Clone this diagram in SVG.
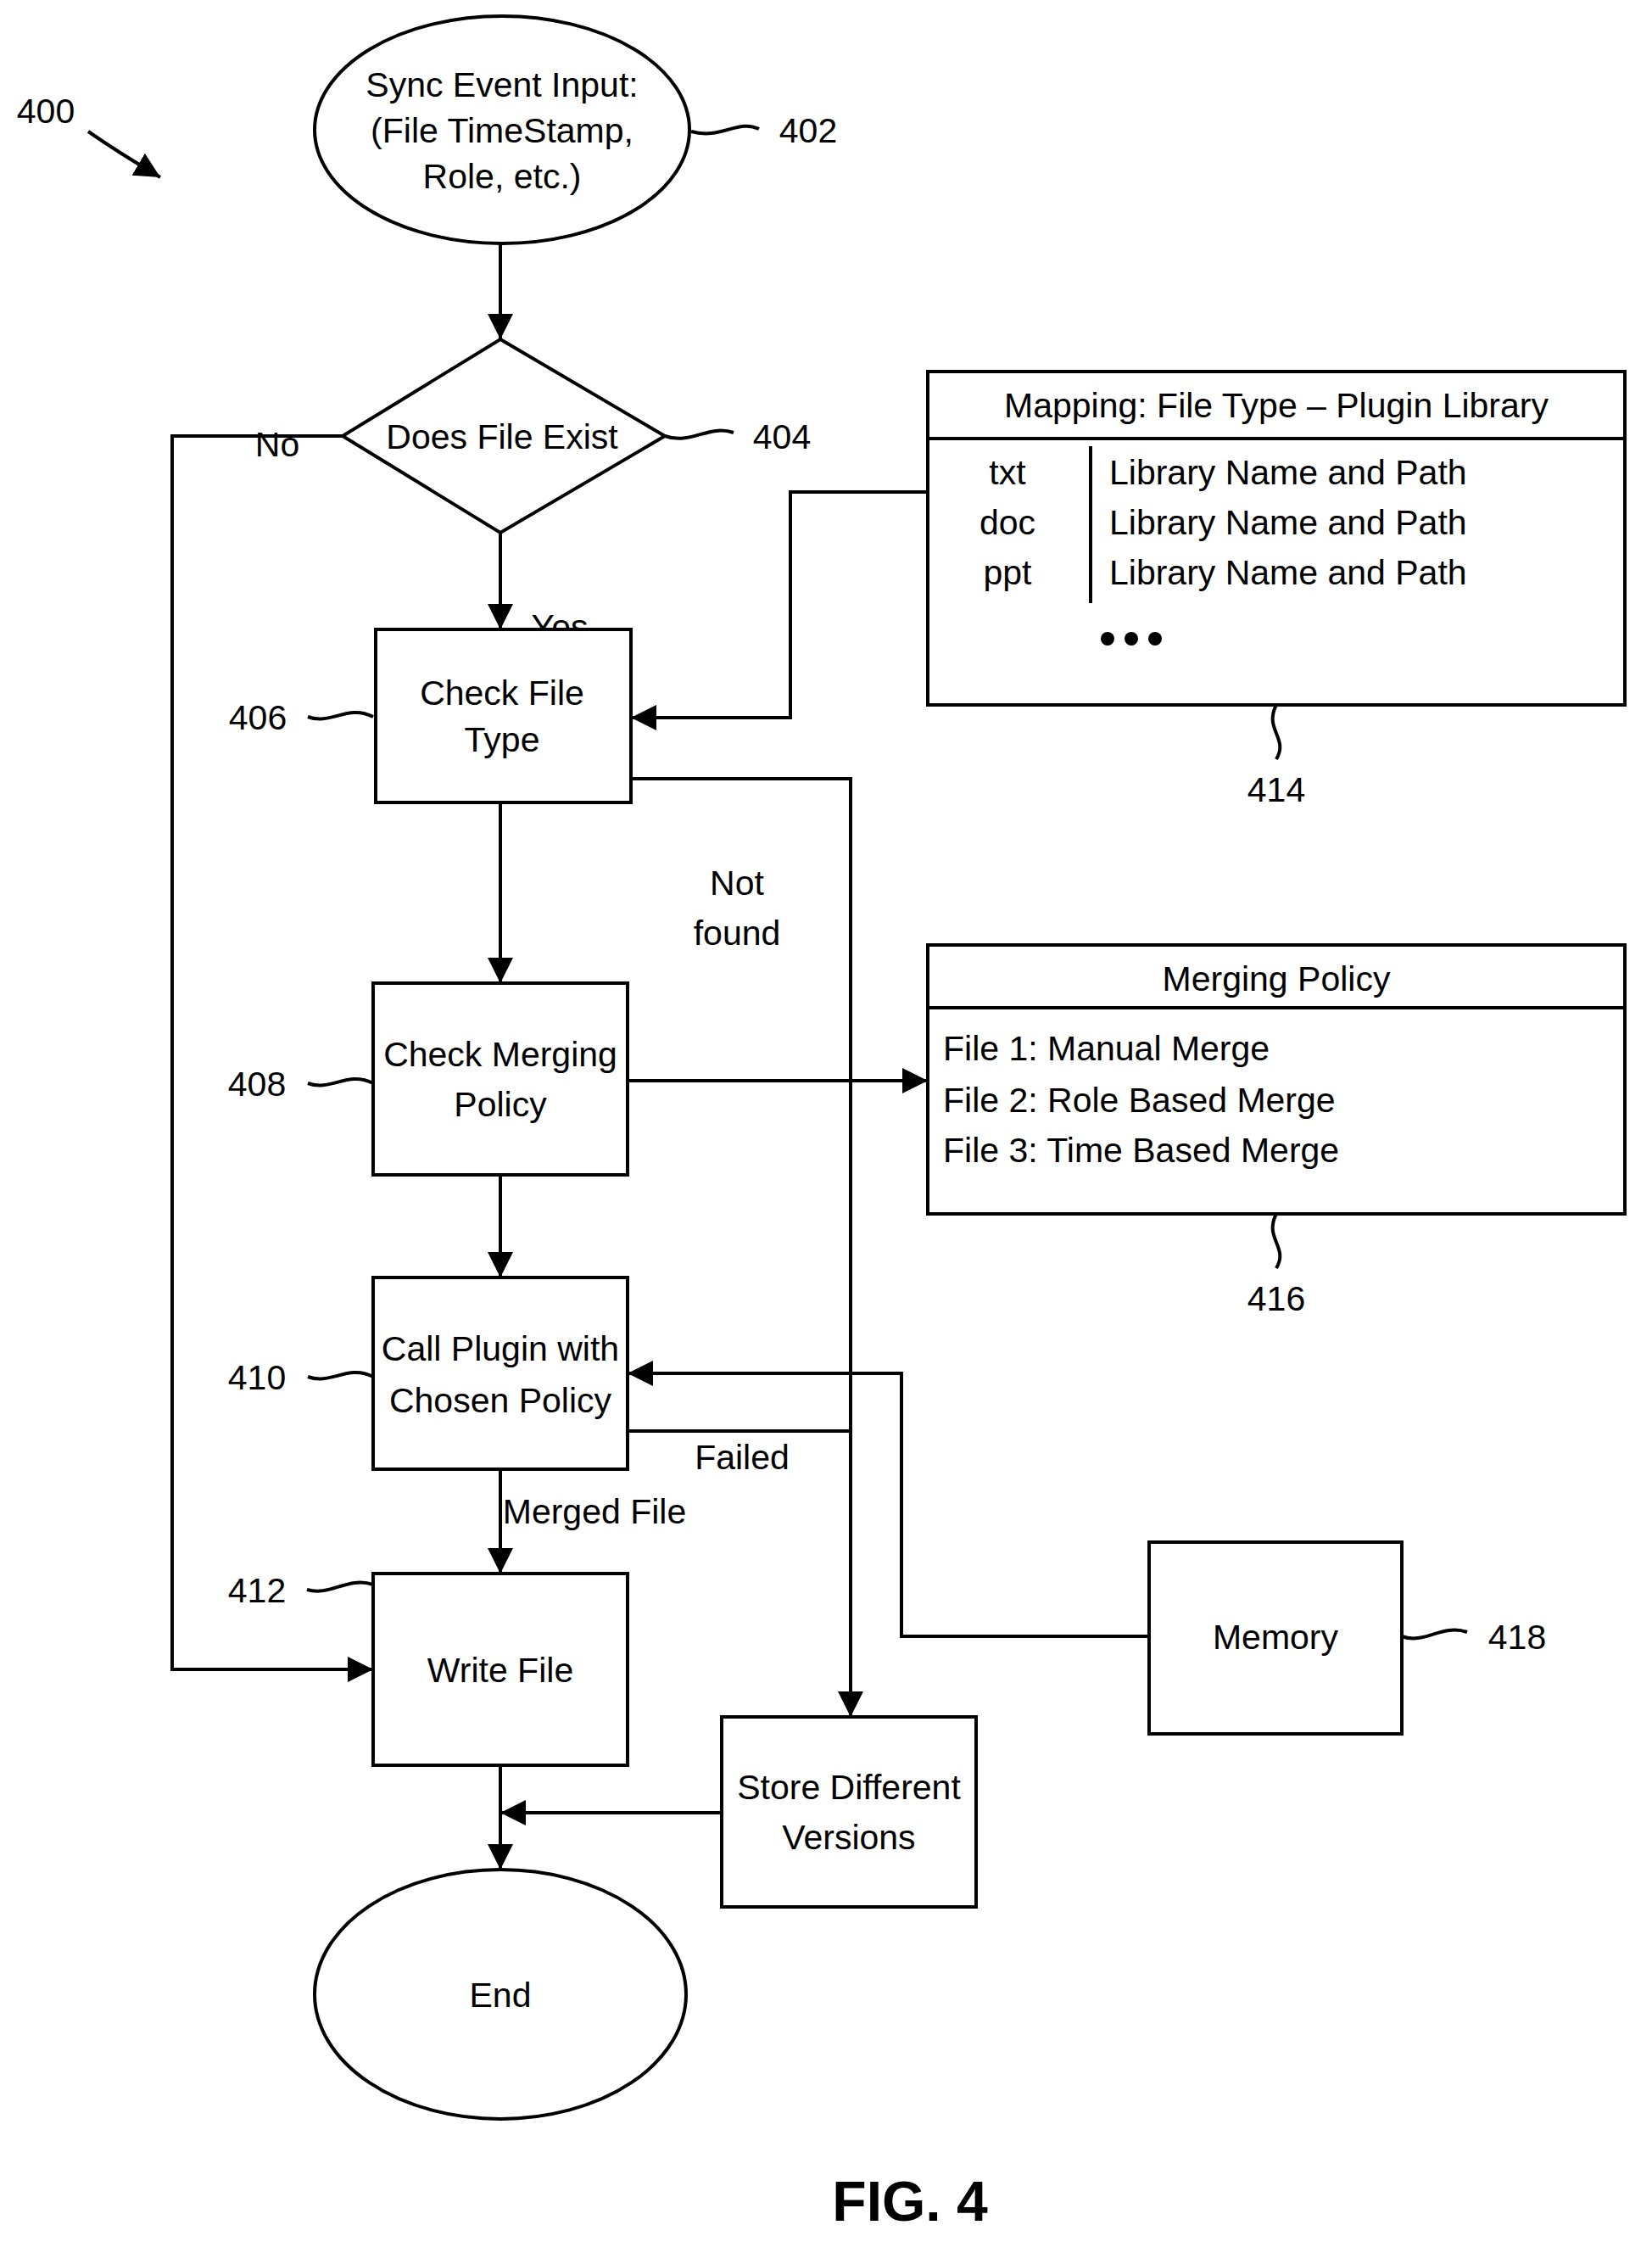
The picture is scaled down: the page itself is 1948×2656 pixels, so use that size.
<svg xmlns="http://www.w3.org/2000/svg" width="1948" height="2656" viewBox="0 0 1948 2656">
<style>
.s{fill:none;stroke:#000;stroke-width:4}
.b{fill:#fff;stroke:#000;stroke-width:4}
text{font-family:"Liberation Sans",Arial,sans-serif;font-size:41px;fill:#000}
.c{text-anchor:middle}
</style>
<defs><marker id="a" viewBox="0 0 10 10" refX="10" refY="5" markerWidth="7" markerHeight="7" markerUnits="userSpaceOnUse" orient="auto"><path d="M0,0 L10,5 L0,10 z" fill="#000"/></marker>
<marker id="ah" viewBox="0 0 10 10" refX="10" refY="5" markerWidth="30" markerHeight="30" markerUnits="userSpaceOnUse" orient="auto"><path d="M0,0 L10,5 L0,10 z" fill="#000"/></marker></defs>
<rect width="1948" height="2656" fill="#fff"/>
<g id="connectors" class="s">
<path d="M590,287 V400" marker-end="url(#ah)"/>
<path d="M590,628 V742" marker-end="url(#ah)"/>
<path d="M404,514 H203 V1968 H440" marker-end="url(#ah)"/>
<path d="M1094,580 H932 V846 H744" marker-end="url(#ah)"/>
<path d="M744,918 H1003 V2024" marker-end="url(#ah)"/>
<path d="M590,946 V1159" marker-end="url(#ah)"/>
<path d="M740,1274 H1094" marker-end="url(#ah)"/>
<path d="M590,1385 V1506" marker-end="url(#ah)"/>
<path d="M1355,1929 H1063 V1619 H740" marker-end="url(#ah)"/>
<path d="M740,1687 H1003"/>
<path d="M590,1732 V1855" marker-end="url(#ah)"/>
<path d="M590,2081 V2204" marker-end="url(#ah)"/>
<path d="M851,2137 H590" marker-end="url(#ah)"/>
<path d="M104,155 Q140,180 189,209" marker-end="url(#ah)"/>
<path d="M815,155 C850,165 870,140 895,152"/>
<path d="M784,514 C815,525 835,500 865,510"/>
<path d="M363,845 C390,855 410,830 440,845"/>
<path d="M303+0,0" />
<path d="M363,1277 C390,1287 410,1262 440,1277"/>
<path d="M363,1623 C390,1633 410,1608 440,1623"/>
<path d="M362,1874 C390,1882 410,1858 440,1868"/>
<path d="M1653,1929 C1680,1939 1700,1914 1730,1924"/>
<path d="M1505,831 C1490,860 1520,870 1505,895"/>
<path d="M1505,1431 C1490,1460 1520,1470 1505,1495"/>
</g>
<text x="54" y="145" class="c">400</text>
<g id="n402"><ellipse cx="592" cy="153" rx="221" ry="134" class="b"/>
<text x="592" y="114" class="c">Sync Event Input:</text><text x="592" y="168" class="c">(File TimeStamp,</text><text x="592" y="222" class="c">Role, etc.)</text>
<text x="953" y="168" class="c">402</text></g>
<g id="n404"><path d="M590,400 L784,514 L590,628 L404,514 z" class="b"/>
<text x="592" y="529" class="c">Does File Exist</text><text x="922" y="529" class="c">404</text>
<text x="327" y="538" class="c">No</text><text x="660" y="753" class="c">Yes</text></g>
<g id="n406"><rect x="443" y="742" width="301" height="204" class="b"/>
<text x="592" y="910" class="c" dy="-79">Check File</text><text x="592" y="886" class="c">Type</text>
<text x="304" y="860" class="c">406</text>
<text x="869" y="1055" class="c">Not</text><text x="869" y="1114" class="c">found</text></g>
<g id="n414"><rect x="1094" y="438" width="822" height="393" class="b"/>
<path d="M1094,517 H1916 M1286,526 V711" class="s"/>
<text x="1505" y="492" class="c">Mapping: File Type – Plugin Library</text>
<text x="1188" y="571" class="c">txt</text><text x="1188" y="630" class="c">doc</text><text x="1188" y="689" class="c">ppt</text>
<text x="1308" y="571">Library Name and Path</text><text x="1308" y="630">Library Name and Path</text><text x="1308" y="689">Library Name and Path</text>
<circle cx="1306" cy="753" r="8"/><circle cx="1334" cy="753" r="8"/><circle cx="1362" cy="753" r="8"/>
<text x="1505" y="945" class="c">414</text></g>
<g id="n408"><rect x="440" y="1159" width="300" height="226" class="b"/>
<text x="590" y="1257" class="c">Check Merging</text><text x="590" y="1316" class="c">Policy</text>
<text x="303" y="1292" class="c">408</text></g>
<g id="n416"><rect x="1094" y="1114" width="822" height="317" class="b"/>
<path d="M1094,1188 H1916" class="s"/>
<text x="1505" y="1168" class="c">Merging Policy</text>
<text x="1112" y="1250">File 1: Manual Merge</text><text x="1112" y="1311">File 2: Role Based Merge</text><text x="1112" y="1370">File 3: Time Based Merge</text>
<text x="1505" y="1545" class="c">416</text></g>
<g id="n410"><rect x="440" y="1506" width="300" height="226" class="b"/>
<text x="590" y="1604" class="c">Call Plugin with</text><text x="590" y="1665" class="c">Chosen Policy</text>
<text x="303" y="1638" class="c">410</text>
<text x="875" y="1732" class="c">Failed</text><text x="701" y="1796" class="c">Merged File</text></g>
<g id="n412"><rect x="440" y="1855" width="300" height="226" class="b"/>
<text x="590" y="1983" class="c">Write File</text><text x="303" y="1889" class="c">412</text></g>
<g id="n418"><rect x="1355" y="1818" width="298" height="226" class="b"/>
<text x="1504" y="1944" class="c">Memory</text><text x="1789" y="1944" class="c">418</text></g>
<g id="nstore"><rect x="851" y="2024" width="300" height="224" class="b"/>
<text x="1001" y="2121" class="c">Store Different</text><text x="1001" y="2180" class="c">Versions</text></g>
<g id="nend"><ellipse cx="590" cy="2351" rx="219" ry="147" class="b"/>
<text x="590" y="2366" class="c">End</text></g>
<text x="1073" y="2618" class="c" style="font-size:66px;font-weight:bold">FIG. 4</text>
</svg>
